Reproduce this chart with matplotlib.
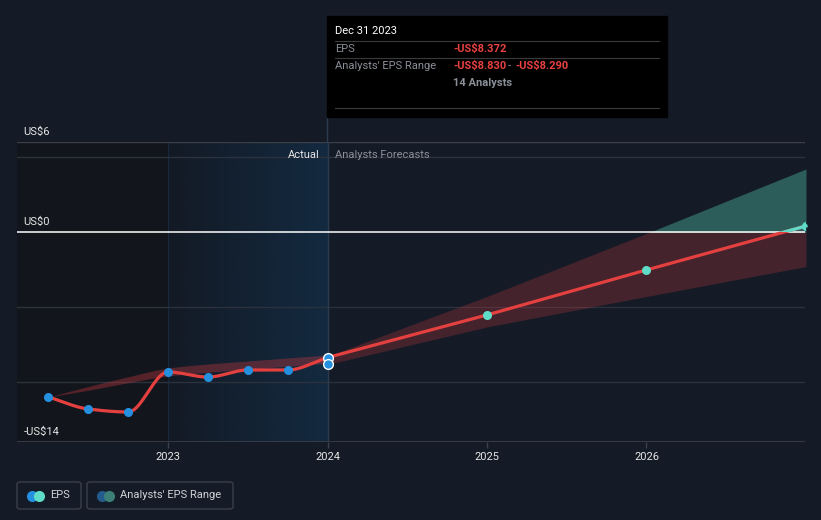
import numpy as np
import matplotlib
matplotlib.use("Agg")
import matplotlib.pyplot as plt
from matplotlib.patches import Rectangle, FancyBboxPatch
from matplotlib.colors import LinearSegmentedColormap

plt.rcParams["font.family"] = ["Roboto", "DejaVu Sans"]

# data (EPS in US$, x in decimal years)
act_years = [2022.25, 2022.5, 2022.75, 2023.0, 2023.25, 2023.5, 2023.75, 2024.0]
act_eps = [-11.0, -11.8, -12.0, -9.33, -9.67, -9.2, -9.2, -8.37]
past_hi = [-11.0, -10.3, -9.65, -9.07, -8.8, -8.6, -8.4, -8.2]
past_lo = [-11.0, -10.55, -10.05, -9.6, -9.35, -9.15, -8.95, -8.75]

fc_years = [2024.0, 2025.0, 2026.0, 2027.0]
fc_eps = [-8.37, -5.53, -2.53, 0.4]
fc_hi = [-8.29, -4.3, -0.1, 4.2]
fc_lo = [-8.83, -6.33, -4.3, -2.3]
consensus_2024 = -8.8

xticks = [2023, 2024, 2025, 2026]
ylabels = {6: "US$6", 0: "US$0", -14: "-US$14"}
grid_vals = [5, -5, -10]

BG = "#151b26"
RED = "#e3403f"
TEAL = "#5fdcc8"
BLUE = "#2590e0"
W, H = 821, 520


def monotone(x, y, n=24):
    # smooth monotone curve through the given points (for drawing only)
    x = np.asarray(x, float)
    y = np.asarray(y, float)
    h = np.diff(x)
    d = np.diff(y) / h
    m = np.zeros_like(y)
    m[0], m[-1] = d[0], d[-1]
    for i in range(1, len(y) - 1):
        if d[i - 1] * d[i] <= 0:
            m[i] = 0
        else:
            m[i] = 3 * (h[i - 1] + h[i]) / ((2 * h[i] + h[i - 1]) / d[i - 1] + (h[i] + 2 * h[i - 1]) / d[i])
    xs, ys = [], []
    for i in range(len(h)):
        t = np.linspace(0, 1, n, endpoint=(i == len(h) - 1))
        h00 = 2 * t**3 - 3 * t**2 + 1
        h10 = t**3 - 2 * t**2 + t
        h01 = -2 * t**3 + 3 * t**2
        h11 = t**3 - t**2
        xs.append(x[i] + t * h[i])
        ys.append(h00 * y[i] + h10 * h[i] * m[i] + h01 * y[i + 1] + h11 * h[i] * m[i + 1])
    return np.concatenate(xs), np.concatenate(ys)


def px(x, y):
    return x / W, 1 - y / H


fig = plt.figure(figsize=(W / 100, H / 100), dpi=100, facecolor=BG)
ax = fig.add_axes([17 / W, 78 / H, 788 / W, 300 / H])
ax.set_facecolor(BG)
x0, x1 = 2022.053, 2026.994
ax.set_xlim(x0, x1)
ax.set_ylim(-14, 6)
for s in ax.spines.values():
    s.set_visible(False)

# shaded backgrounds
ax.axvspan(x0, 2023.0, color="#12151b", lw=0, zorder=0.4)
grad = np.linspace(0, 1, 256).reshape(1, -1)
blue = LinearSegmentedColormap.from_list("b", ["#131a25", "#132a40"])
ax.imshow(grad, extent=[2023.0, 2024.0, -14, 6], aspect="auto", cmap=blue,
          interpolation="bilinear", zorder=0.5)
ax.axvline(2023.0, color="#172a3d", lw=0.8, zorder=0.6)

# grid
for v in grid_vals:
    ax.axhline(v, color="#2c323d", lw=1, zorder=1)
ax.axhline(6, color="#3a3f48", lw=1, zorder=1)
ax.axhline(-14, color="#3b404a", lw=1.2, zorder=1)
ax.axhline(0, color="white", lw=1.1, zorder=4)

# past band
bx, bh = monotone(act_years, past_hi)
_, bl = monotone(act_years, past_lo)
ax.fill_between(bx, bl, bh, color="#c0383f", alpha=0.38, lw=0, zorder=2)

# forecast band, red below zero, teal above
fb = ax.fill_between(fc_years, fc_lo, fc_hi, color="#c0383f", alpha=0.28, lw=0, zorder=2)
fb.set_clip_path(Rectangle((2020, -20), 10, 20, transform=ax.transData))
ft = ax.fill_between(fc_years, fc_lo, fc_hi, color="#3c8a80", alpha=0.6, lw=0, zorder=2)
ft.set_clip_path(Rectangle((2020, 0), 10, 20, transform=ax.transData))

# EPS lines
lx, ly = monotone(act_years, act_eps)
ax.plot(lx, ly, color=RED, lw=2.3, zorder=5, solid_capstyle="round")
ax.plot(fc_years, fc_eps, color=RED, lw=2.3, zorder=5, solid_capstyle="round")
tl, = ax.plot(fc_years, fc_eps, color=TEAL, lw=2.3, zorder=5)
tl.set_clip_path(Rectangle((2020, 0), 10, 20, transform=ax.transData))

ax.plot(act_years[:-1], act_eps[:-1], "o", color=BLUE, ms=6.5, mew=0, zorder=6)
ax.plot([2024.0, 2024.0], [act_eps[-1], consensus_2024], "o", color=BLUE, ms=7,
        mec="white", mew=1, zorder=7)
ax.plot(fc_years[1:], fc_eps[1:], "o", color=TEAL, ms=6.5, mew=0, zorder=6)

# divider line at today
ax.axvline(2024.0, color="#2c3c50", lw=1, zorder=3)
fig.add_artist(plt.Line2D([327 / W, 327 / W], [1 - 117 / H, 1 - 142 / H], color="#2c3c50", lw=1))

ax.set_xticks(xticks)
ax.set_xticklabels([str(t) for t in xticks])
ax.tick_params(axis="x", colors="#3b404a", length=4, width=1, labelcolor="#e6e6e6", labelsize=8, pad=3)
ax.set_yticks([])

for v, lab in ylabels.items():
    ax.text(2022.095, v + 0.35, lab, color="#e6e6e6", fontsize=8, va="bottom", ha="left", zorder=8)

ax.text(2023.95, 5.1, "Actual", color="#e6e6e6", fontsize=8, ha="right", va="center", zorder=8)
ax.text(2024.05, 5.1, "Analysts Forecasts", color="#8a8f98", fontsize=8, ha="left", va="center", zorder=8)

# tooltip
fig.add_artist(Rectangle(px(327, 117), 340 / W, 101 / H, color="black", zorder=10))
for yy in (41, 58, 108):
    fig.add_artist(plt.Line2D([335 / W, 659 / W], [1 - yy / H] * 2, color="#3a3a3a", lw=0.8, zorder=11))
fig.text(*px(335, 31), "Dec 31 2023", color="white", fontsize=8, va="center", zorder=12)
fig.text(*px(335, 49), "EPS", color="#8a8f98", fontsize=8, va="center", zorder=12)
fig.text(*px(453, 49), "-US$8.372", color="#e8413f", fontsize=8, va="center", fontweight="bold", zorder=12)
fig.text(*px(335, 66), "Analysts' EPS Range", color="#8a8f98", fontsize=8, va="center", zorder=12)
fig.text(*px(453, 66), "-US$8.830", color="#e8413f", fontsize=8, va="center", fontweight="bold", zorder=12)
fig.text(*px(508, 66), "-", color="#8a8f98", fontsize=8, va="center", zorder=12)
fig.text(*px(515, 66), "-US$8.290", color="#e8413f", fontsize=8, va="center", fontweight="bold", zorder=12)
fig.text(*px(453, 83), "14 Analysts", color="#8a8f98", fontsize=8, va="center", fontweight="bold", zorder=12)

# legend
legend_items = [("EPS", 17, 81, BLUE, TEAL), ("Analysts' EPS Range", 87, 233, "#235b8c", "#3c7f78")]
for lab, lx0, lx1, c1, c2 in legend_items:
    fig.add_artist(FancyBboxPatch(px(lx0, 509), (lx1 - lx0) / W, 27 / H,
                                  boxstyle="round,pad=0,rounding_size=0.004",
                                  fc="none", ec="#3a3f4a", lw=1))
    fig.add_artist(plt.Line2D([(lx0 + 15) / W], [1 - 495.5 / H], marker="o", color=c1, ms=8, mew=0))
    fig.add_artist(plt.Line2D([(lx0 + 22) / W], [1 - 495.5 / H], marker="o", color=c2, ms=8, mew=0))
    fig.text(*px(lx0 + 33, 495.5), lab, color="#d0d2d6", fontsize=8, va="center")

fig.savefig("out.png", dpi=100, facecolor=BG)
